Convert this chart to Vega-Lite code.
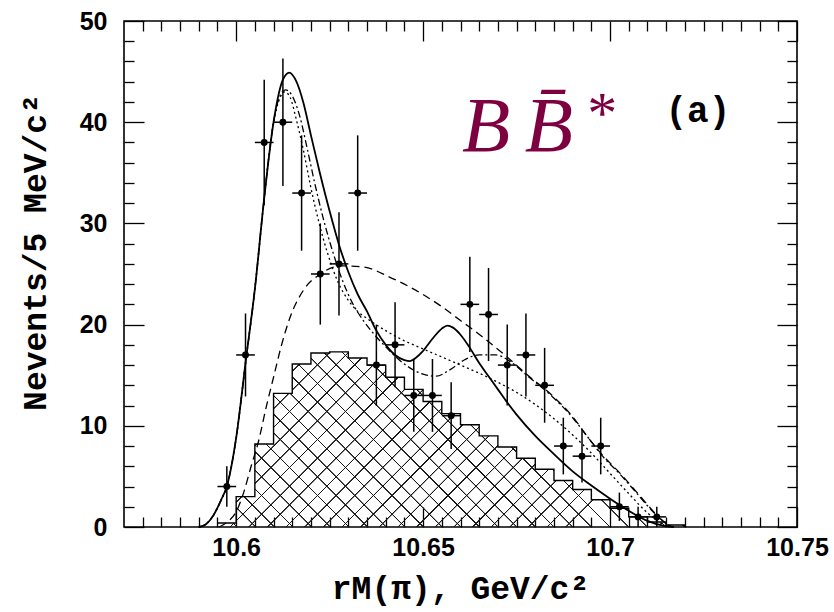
{
  "$schema": "https://vega.github.io/schema/vega-lite/v6.json",
  "width": 673,
  "height": 506,
  "autosize": {"type": "none"},
  "padding": {"left": 124, "top": 21, "right": 37, "bottom": 85},
  "background": "white",
  "config": {
    "view": {"stroke": "black", "strokeWidth": 1.6},
    "axis": {
      "domain": false, "grid": false,
      "tickColor": "black", "tickWidth": 1.3,
      "labelFont": "Liberation Sans", "labelFontWeight": "bold", "labelFontSize": 25, "labelColor": "black",
      "titleFont": "Liberation Mono", "titleFontWeight": "bold", "titleFontSize": 33, "titleColor": "black"
    }
  },
  "resolve": {"axis": {"x": "independent", "y": "independent"}},
  "datasets": {
    "hist": [
      {"lo": 10.595, "n": 0.4}, {"lo": 10.600, "n": 3.0}, {"lo": 10.605, "n": 8.2}, {"lo": 10.610, "n": 13.2},
      {"lo": 10.615, "n": 16.1}, {"lo": 10.620, "n": 17.2}, {"lo": 10.625, "n": 17.3}, {"lo": 10.630, "n": 16.7},
      {"lo": 10.635, "n": 16.0}, {"lo": 10.640, "n": 14.8}, {"lo": 10.645, "n": 13.6}, {"lo": 10.650, "n": 12.4},
      {"lo": 10.655, "n": 11.2}, {"lo": 10.660, "n": 10.1}, {"lo": 10.665, "n": 9.0}, {"lo": 10.670, "n": 7.9},
      {"lo": 10.675, "n": 6.8}, {"lo": 10.680, "n": 5.7}, {"lo": 10.685, "n": 4.6}, {"lo": 10.690, "n": 3.7},
      {"lo": 10.695, "n": 2.7}, {"lo": 10.700, "n": 1.85}, {"lo": 10.705, "n": 1.0}, {"lo": 10.710, "n": 0.5},
      {"lo": 10.715, "n": 0.2}, {"lo": 10.720, "n": 0}
    ],
    "pts": [
      {"m": 10.5975, "b0": 10.595, "b1": 10.600, "n": 4, "lo": 2.0, "hi": 6.0},
      {"m": 10.6025, "b0": 10.600, "b1": 10.605, "n": 17, "lo": 12.9, "hi": 21.1},
      {"m": 10.6075, "b0": 10.605, "b1": 10.610, "n": 38, "lo": 31.8, "hi": 44.2},
      {"m": 10.6125, "b0": 10.610, "b1": 10.615, "n": 40, "lo": 33.7, "hi": 46.3},
      {"m": 10.6175, "b0": 10.615, "b1": 10.620, "n": 33, "lo": 27.3, "hi": 38.7},
      {"m": 10.6225, "b0": 10.620, "b1": 10.625, "n": 25, "lo": 20.0, "hi": 30.0},
      {"m": 10.6275, "b0": 10.625, "b1": 10.630, "n": 26, "lo": 20.9, "hi": 31.1},
      {"m": 10.6325, "b0": 10.630, "b1": 10.635, "n": 33, "lo": 27.3, "hi": 38.7},
      {"m": 10.6375, "b0": 10.635, "b1": 10.640, "n": 16, "lo": 12.0, "hi": 20.0},
      {"m": 10.6425, "b0": 10.640, "b1": 10.645, "n": 18, "lo": 13.8, "hi": 22.2},
      {"m": 10.6475, "b0": 10.645, "b1": 10.650, "n": 13, "lo": 9.4, "hi": 16.6},
      {"m": 10.6525, "b0": 10.650, "b1": 10.655, "n": 13, "lo": 9.4, "hi": 16.6},
      {"m": 10.6575, "b0": 10.655, "b1": 10.660, "n": 11, "lo": 7.7, "hi": 14.3},
      {"m": 10.6625, "b0": 10.660, "b1": 10.665, "n": 22, "lo": 17.3, "hi": 26.7},
      {"m": 10.6675, "b0": 10.665, "b1": 10.670, "n": 21, "lo": 16.4, "hi": 25.6},
      {"m": 10.6725, "b0": 10.670, "b1": 10.675, "n": 16, "lo": 12.0, "hi": 20.0},
      {"m": 10.6775, "b0": 10.675, "b1": 10.680, "n": 17, "lo": 12.9, "hi": 21.1},
      {"m": 10.6825, "b0": 10.680, "b1": 10.685, "n": 14, "lo": 10.3, "hi": 17.7},
      {"m": 10.6875, "b0": 10.685, "b1": 10.690, "n": 8, "lo": 5.2, "hi": 10.8},
      {"m": 10.6925, "b0": 10.690, "b1": 10.695, "n": 7, "lo": 4.4, "hi": 9.6},
      {"m": 10.6975, "b0": 10.695, "b1": 10.700, "n": 8, "lo": 5.2, "hi": 10.8},
      {"m": 10.7025, "b0": 10.700, "b1": 10.705, "n": 2, "lo": 0.6, "hi": 3.4},
      {"m": 10.7075, "b0": 10.705, "b1": 10.710, "n": 1, "lo": 0, "hi": 2},
      {"m": 10.7125, "b0": 10.710, "b1": 10.715, "n": 1, "lo": 0, "hi": 2}
    ],
    "curves": [
      {"c": "solid", "m": 10.590, "n": 0}, {"c": "solid", "m": 10.592, "n": 0.3}, {"c": "solid", "m": 10.594, "n": 1.2},
      {"c": "solid", "m": 10.596, "n": 2.7}, {"c": "solid", "m": 10.5975, "n": 4.0}, {"c": "solid", "m": 10.600, "n": 8.8},
      {"c": "solid", "m": 10.6025, "n": 16.2}, {"c": "solid", "m": 10.605, "n": 23.5}, {"c": "solid", "m": 10.6075, "n": 32.5},
      {"c": "solid", "m": 10.610, "n": 40.0}, {"c": "solid", "m": 10.6125, "n": 44.2}, {"c": "solid", "m": 10.6142, "n": 44.9},
      {"c": "solid", "m": 10.616, "n": 44.1}, {"c": "solid", "m": 10.618, "n": 41.9}, {"c": "solid", "m": 10.620, "n": 38.7},
      {"c": "solid", "m": 10.6225, "n": 34.8}, {"c": "solid", "m": 10.625, "n": 31.2}, {"c": "solid", "m": 10.6275, "n": 27.9},
      {"c": "solid", "m": 10.630, "n": 25.2}, {"c": "solid", "m": 10.6325, "n": 23.0}, {"c": "solid", "m": 10.635, "n": 21.3},
      {"c": "solid", "m": 10.6375, "n": 19.4}, {"c": "solid", "m": 10.640, "n": 18.0}, {"c": "solid", "m": 10.6425, "n": 17.0},
      {"c": "solid", "m": 10.645, "n": 16.5}, {"c": "solid", "m": 10.6465, "n": 16.4}, {"c": "solid", "m": 10.648, "n": 16.7},
      {"c": "solid", "m": 10.650, "n": 17.4}, {"c": "solid", "m": 10.6525, "n": 18.6}, {"c": "solid", "m": 10.655, "n": 19.6},
      {"c": "solid", "m": 10.6565, "n": 19.9}, {"c": "solid", "m": 10.658, "n": 19.7}, {"c": "solid", "m": 10.660, "n": 19.0},
      {"c": "solid", "m": 10.6625, "n": 17.7}, {"c": "solid", "m": 10.665, "n": 16.2}, {"c": "solid", "m": 10.6675, "n": 14.9},
      {"c": "solid", "m": 10.670, "n": 13.6}, {"c": "solid", "m": 10.6725, "n": 12.3}, {"c": "solid", "m": 10.675, "n": 11.1},
      {"c": "solid", "m": 10.680, "n": 9.0}, {"c": "solid", "m": 10.685, "n": 7.2}, {"c": "solid", "m": 10.690, "n": 5.5},
      {"c": "solid", "m": 10.695, "n": 4.1}, {"c": "solid", "m": 10.700, "n": 2.8}, {"c": "solid", "m": 10.705, "n": 1.6},
      {"c": "solid", "m": 10.710, "n": 0.6}, {"c": "solid", "m": 10.7145, "n": 0.1}, {"c": "solid", "m": 10.717, "n": 0},

      {"c": "dot", "m": 10.590, "n": 0}, {"c": "dot", "m": 10.592, "n": 0.3}, {"c": "dot", "m": 10.594, "n": 1.2},
      {"c": "dot", "m": 10.596, "n": 2.7}, {"c": "dot", "m": 10.5975, "n": 4.0}, {"c": "dot", "m": 10.600, "n": 8.8},
      {"c": "dot", "m": 10.6025, "n": 16.2}, {"c": "dot", "m": 10.605, "n": 23.5}, {"c": "dot", "m": 10.6075, "n": 32.5},
      {"c": "dot", "m": 10.610, "n": 40.0}, {"c": "dot", "m": 10.6115, "n": 42.2}, {"c": "dot", "m": 10.613, "n": 43.0},
      {"c": "dot", "m": 10.6145, "n": 42.4}, {"c": "dot", "m": 10.616, "n": 40.4}, {"c": "dot", "m": 10.618, "n": 37.2},
      {"c": "dot", "m": 10.620, "n": 33.5}, {"c": "dot", "m": 10.622, "n": 30.3}, {"c": "dot", "m": 10.6245, "n": 27.0},
      {"c": "dot", "m": 10.627, "n": 24.4}, {"c": "dot", "m": 10.630, "n": 22.4}, {"c": "dot", "m": 10.6325, "n": 21.3},
      {"c": "dot", "m": 10.635, "n": 20.6}, {"c": "dot", "m": 10.640, "n": 19.4}, {"c": "dot", "m": 10.645, "n": 18.4},
      {"c": "dot", "m": 10.650, "n": 17.6}, {"c": "dot", "m": 10.655, "n": 16.8}, {"c": "dot", "m": 10.660, "n": 16.0},
      {"c": "dot", "m": 10.665, "n": 15.2}, {"c": "dot", "m": 10.670, "n": 14.3}, {"c": "dot", "m": 10.675, "n": 13.3},
      {"c": "dot", "m": 10.680, "n": 12.1}, {"c": "dot", "m": 10.685, "n": 10.7}, {"c": "dot", "m": 10.690, "n": 9.1},
      {"c": "dot", "m": 10.695, "n": 7.3}, {"c": "dot", "m": 10.700, "n": 5.3}, {"c": "dot", "m": 10.705, "n": 3.3},
      {"c": "dot", "m": 10.710, "n": 1.4}, {"c": "dot", "m": 10.7145, "n": 0.2}, {"c": "dot", "m": 10.716, "n": 0},

      {"c": "dashdot", "m": 10.590, "n": 0}, {"c": "dashdot", "m": 10.592, "n": 0.3}, {"c": "dashdot", "m": 10.594, "n": 1.2},
      {"c": "dashdot", "m": 10.596, "n": 2.7}, {"c": "dashdot", "m": 10.5975, "n": 4.0}, {"c": "dashdot", "m": 10.600, "n": 8.8},
      {"c": "dashdot", "m": 10.6025, "n": 16.2}, {"c": "dashdot", "m": 10.605, "n": 23.5}, {"c": "dashdot", "m": 10.6075, "n": 32.5},
      {"c": "dashdot", "m": 10.610, "n": 40.0}, {"c": "dashdot", "m": 10.6115, "n": 42.4}, {"c": "dashdot", "m": 10.6132, "n": 43.2},
      {"c": "dashdot", "m": 10.615, "n": 42.6}, {"c": "dashdot", "m": 10.617, "n": 40.6}, {"c": "dashdot", "m": 10.619, "n": 37.4},
      {"c": "dashdot", "m": 10.621, "n": 34.0}, {"c": "dashdot", "m": 10.6235, "n": 30.2}, {"c": "dashdot", "m": 10.626, "n": 27.0},
      {"c": "dashdot", "m": 10.6285, "n": 24.3}, {"c": "dashdot", "m": 10.631, "n": 22.2}, {"c": "dashdot", "m": 10.634, "n": 20.4},
      {"c": "dashdot", "m": 10.637, "n": 19.0}, {"c": "dashdot", "m": 10.640, "n": 17.8}, {"c": "dashdot", "m": 10.645, "n": 16.1},
      {"c": "dashdot", "m": 10.650, "n": 15.1}, {"c": "dashdot", "m": 10.6535, "n": 14.9}, {"c": "dashdot", "m": 10.657, "n": 15.5},
      {"c": "dashdot", "m": 10.661, "n": 16.5}, {"c": "dashdot", "m": 10.665, "n": 17.0}, {"c": "dashdot", "m": 10.6695, "n": 17.0},
      {"c": "dashdot", "m": 10.6735, "n": 16.3}, {"c": "dashdot", "m": 10.678, "n": 14.9}, {"c": "dashdot", "m": 10.6848, "n": 12.8},
      {"c": "dashdot", "m": 10.690, "n": 10.8}, {"c": "dashdot", "m": 10.694, "n": 8.9}, {"c": "dashdot", "m": 10.698, "n": 7.0},
      {"c": "dashdot", "m": 10.7027, "n": 5.2}, {"c": "dashdot", "m": 10.707, "n": 3.4}, {"c": "dashdot", "m": 10.710, "n": 2.1},
      {"c": "dashdot", "m": 10.7135, "n": 0.8}, {"c": "dashdot", "m": 10.7155, "n": 0.2}, {"c": "dashdot", "m": 10.717, "n": 0},

      {"c": "dash", "m": 10.5955, "n": 0}, {"c": "dash", "m": 10.598, "n": 0.6}, {"c": "dash", "m": 10.600, "n": 1.5},
      {"c": "dash", "m": 10.602, "n": 3.4}, {"c": "dash", "m": 10.604, "n": 6.0}, {"c": "dash", "m": 10.606, "n": 8.5},
      {"c": "dash", "m": 10.608, "n": 11.8}, {"c": "dash", "m": 10.610, "n": 14.8}, {"c": "dash", "m": 10.612, "n": 17.8},
      {"c": "dash", "m": 10.6145, "n": 20.8}, {"c": "dash", "m": 10.618, "n": 23.4}, {"c": "dash", "m": 10.6225, "n": 25.0},
      {"c": "dash", "m": 10.628, "n": 25.8}, {"c": "dash", "m": 10.634, "n": 25.7}, {"c": "dash", "m": 10.641, "n": 24.7},
      {"c": "dash", "m": 10.648, "n": 23.4}, {"c": "dash", "m": 10.6545, "n": 21.9}, {"c": "dash", "m": 10.660, "n": 20.4},
      {"c": "dash", "m": 10.6655, "n": 18.9}, {"c": "dash", "m": 10.6715, "n": 17.1}, {"c": "dash", "m": 10.678, "n": 15.0},
      {"c": "dash", "m": 10.6848, "n": 12.9}, {"c": "dash", "m": 10.690, "n": 10.9}, {"c": "dash", "m": 10.694, "n": 8.9},
      {"c": "dash", "m": 10.698, "n": 7.1}, {"c": "dash", "m": 10.7027, "n": 5.3}, {"c": "dash", "m": 10.707, "n": 3.5},
      {"c": "dash", "m": 10.710, "n": 2.2}, {"c": "dash", "m": 10.7135, "n": 0.8}, {"c": "dash", "m": 10.7155, "n": 0.2},
      {"c": "dash", "m": 10.717, "n": 0}
    ],
    "notes": [{"first": "B", "second": "B̄", "star": "*", "panel": "(a)"}]
  },
  "layer": [
    {
      "data": {"name": "hist"},
      "mark": {
        "type": "area", "interpolate": "step-after",
        "fill": {
          "gradient": "linear", "x1": 0, "y1": 0, "x2": 1, "y2": 0.374,
          "stops": [
            {"offset": 0, "color": "rgba(0,0,0,0)"}, {"offset": 0.0008, "color": "#1a1a1a"}, {"offset": 0.0028, "color": "#1a1a1a"}, {"offset": 0.0036, "color": "rgba(0,0,0,0)"},
            {"offset": 0.035, "color": "rgba(0,0,0,0)"}, {"offset": 0.0358, "color": "#1a1a1a"}, {"offset": 0.0378, "color": "#1a1a1a"}, {"offset": 0.0386, "color": "rgba(0,0,0,0)"},
            {"offset": 0.07, "color": "rgba(0,0,0,0)"}, {"offset": 0.0708, "color": "#1a1a1a"}, {"offset": 0.0728, "color": "#1a1a1a"}, {"offset": 0.0736, "color": "rgba(0,0,0,0)"},
            {"offset": 0.105, "color": "rgba(0,0,0,0)"}, {"offset": 0.1058, "color": "#1a1a1a"}, {"offset": 0.1078, "color": "#1a1a1a"}, {"offset": 0.1086, "color": "rgba(0,0,0,0)"},
            {"offset": 0.14, "color": "rgba(0,0,0,0)"}, {"offset": 0.1408, "color": "#1a1a1a"}, {"offset": 0.1428, "color": "#1a1a1a"}, {"offset": 0.1436, "color": "rgba(0,0,0,0)"},
            {"offset": 0.175, "color": "rgba(0,0,0,0)"}, {"offset": 0.1758, "color": "#1a1a1a"}, {"offset": 0.1778, "color": "#1a1a1a"}, {"offset": 0.1786, "color": "rgba(0,0,0,0)"},
            {"offset": 0.21, "color": "rgba(0,0,0,0)"}, {"offset": 0.2108, "color": "#1a1a1a"}, {"offset": 0.2128, "color": "#1a1a1a"}, {"offset": 0.2136, "color": "rgba(0,0,0,0)"},
            {"offset": 0.245, "color": "rgba(0,0,0,0)"}, {"offset": 0.2458, "color": "#1a1a1a"}, {"offset": 0.2478, "color": "#1a1a1a"}, {"offset": 0.2486, "color": "rgba(0,0,0,0)"},
            {"offset": 0.28, "color": "rgba(0,0,0,0)"}, {"offset": 0.2808, "color": "#1a1a1a"}, {"offset": 0.2828, "color": "#1a1a1a"}, {"offset": 0.2836, "color": "rgba(0,0,0,0)"},
            {"offset": 0.315, "color": "rgba(0,0,0,0)"}, {"offset": 0.3158, "color": "#1a1a1a"}, {"offset": 0.3178, "color": "#1a1a1a"}, {"offset": 0.3186, "color": "rgba(0,0,0,0)"},
            {"offset": 0.35, "color": "rgba(0,0,0,0)"}, {"offset": 0.3508, "color": "#1a1a1a"}, {"offset": 0.3528, "color": "#1a1a1a"}, {"offset": 0.3536, "color": "rgba(0,0,0,0)"},
            {"offset": 0.385, "color": "rgba(0,0,0,0)"}, {"offset": 0.3858, "color": "#1a1a1a"}, {"offset": 0.3878, "color": "#1a1a1a"}, {"offset": 0.3886, "color": "rgba(0,0,0,0)"},
            {"offset": 0.42, "color": "rgba(0,0,0,0)"}, {"offset": 0.4208, "color": "#1a1a1a"}, {"offset": 0.4228, "color": "#1a1a1a"}, {"offset": 0.4236, "color": "rgba(0,0,0,0)"},
            {"offset": 0.455, "color": "rgba(0,0,0,0)"}, {"offset": 0.4558, "color": "#1a1a1a"}, {"offset": 0.4578, "color": "#1a1a1a"}, {"offset": 0.4586, "color": "rgba(0,0,0,0)"},
            {"offset": 0.49, "color": "rgba(0,0,0,0)"}, {"offset": 0.4908, "color": "#1a1a1a"}, {"offset": 0.4928, "color": "#1a1a1a"}, {"offset": 0.4936, "color": "rgba(0,0,0,0)"},
            {"offset": 0.525, "color": "rgba(0,0,0,0)"}, {"offset": 0.5258, "color": "#1a1a1a"}, {"offset": 0.5278, "color": "#1a1a1a"}, {"offset": 0.5286, "color": "rgba(0,0,0,0)"},
            {"offset": 0.56, "color": "rgba(0,0,0,0)"}, {"offset": 0.5608, "color": "#1a1a1a"}, {"offset": 0.5628, "color": "#1a1a1a"}, {"offset": 0.5636, "color": "rgba(0,0,0,0)"},
            {"offset": 0.595, "color": "rgba(0,0,0,0)"}, {"offset": 0.5958, "color": "#1a1a1a"}, {"offset": 0.5978, "color": "#1a1a1a"}, {"offset": 0.5986, "color": "rgba(0,0,0,0)"},
            {"offset": 0.63, "color": "rgba(0,0,0,0)"}, {"offset": 0.6308, "color": "#1a1a1a"}, {"offset": 0.6328, "color": "#1a1a1a"}, {"offset": 0.6336, "color": "rgba(0,0,0,0)"},
            {"offset": 0.665, "color": "rgba(0,0,0,0)"}, {"offset": 0.6658, "color": "#1a1a1a"}, {"offset": 0.6678, "color": "#1a1a1a"}, {"offset": 0.6686, "color": "rgba(0,0,0,0)"},
            {"offset": 0.7, "color": "rgba(0,0,0,0)"}, {"offset": 0.7008, "color": "#1a1a1a"}, {"offset": 0.7028, "color": "#1a1a1a"}, {"offset": 0.7036, "color": "rgba(0,0,0,0)"},
            {"offset": 0.735, "color": "rgba(0,0,0,0)"}, {"offset": 0.7358, "color": "#1a1a1a"}, {"offset": 0.7378, "color": "#1a1a1a"}, {"offset": 0.7386, "color": "rgba(0,0,0,0)"},
            {"offset": 0.77, "color": "rgba(0,0,0,0)"}, {"offset": 0.7708, "color": "#1a1a1a"}, {"offset": 0.7728, "color": "#1a1a1a"}, {"offset": 0.7736, "color": "rgba(0,0,0,0)"},
            {"offset": 0.805, "color": "rgba(0,0,0,0)"}, {"offset": 0.8058, "color": "#1a1a1a"}, {"offset": 0.8078, "color": "#1a1a1a"}, {"offset": 0.8086, "color": "rgba(0,0,0,0)"},
            {"offset": 0.84, "color": "rgba(0,0,0,0)"}, {"offset": 0.8408, "color": "#1a1a1a"}, {"offset": 0.8428, "color": "#1a1a1a"}, {"offset": 0.8436, "color": "rgba(0,0,0,0)"},
            {"offset": 0.875, "color": "rgba(0,0,0,0)"}, {"offset": 0.8758, "color": "#1a1a1a"}, {"offset": 0.8778, "color": "#1a1a1a"}, {"offset": 0.8786, "color": "rgba(0,0,0,0)"},
            {"offset": 0.91, "color": "rgba(0,0,0,0)"}, {"offset": 0.9108, "color": "#1a1a1a"}, {"offset": 0.9128, "color": "#1a1a1a"}, {"offset": 0.9136, "color": "rgba(0,0,0,0)"},
            {"offset": 0.945, "color": "rgba(0,0,0,0)"}, {"offset": 0.9458, "color": "#1a1a1a"}, {"offset": 0.9478, "color": "#1a1a1a"}, {"offset": 0.9486, "color": "rgba(0,0,0,0)"},
            {"offset": 0.98, "color": "rgba(0,0,0,0)"}, {"offset": 0.9808, "color": "#1a1a1a"}, {"offset": 0.9828, "color": "#1a1a1a"}, {"offset": 0.9836, "color": "rgba(0,0,0,0)"},
            {"offset": 1, "color": "rgba(0,0,0,0)"}
          ]
        }
      },
      "encoding": {
        "x": {
          "field": "lo", "type": "quantitative",
          "scale": {"domain": [10.57, 10.75], "nice": false, "zero": false},
          "axis": {
            "orient": "bottom", "values": [10.6, 10.65, 10.7, 10.75], "format": "~g",
            "tickSize": -20, "labelPadding": 28, "labelFlush": false, "labelOverlap": false,
            "title": "rM(π), GeV/c²", "titleX": 336, "titleY": 71, "titleBaseline": "alphabetic", "titleAlign": "center"
          }
        },
        "y": {
          "field": "n", "type": "quantitative",
          "scale": {"domain": [0, 50], "nice": false},
          "axis": {
            "orient": "left", "values": [0, 10, 20, 30, 40, 50],
            "tickSize": -20, "labelPadding": 37, "labelOverlap": false,
            "title": "Nevents/5 MeV/c²", "titleX": -79, "titleY": 231, "titleAngle": -90,
            "titleBaseline": "alphabetic", "titleAlign": "center"
          }
        }
      }
    },
    {
      "data": {"name": "hist"},
      "mark": {
        "type": "area", "interpolate": "step-after",
        "fill": {
          "gradient": "linear", "x1": 0, "y1": 1, "x2": 1, "y2": 0.626,
          "stops": [
            {"offset": 0, "color": "rgba(0,0,0,0)"}, {"offset": 0.0008, "color": "#1a1a1a"}, {"offset": 0.0028, "color": "#1a1a1a"}, {"offset": 0.0036, "color": "rgba(0,0,0,0)"},
            {"offset": 0.035, "color": "rgba(0,0,0,0)"}, {"offset": 0.0358, "color": "#1a1a1a"}, {"offset": 0.0378, "color": "#1a1a1a"}, {"offset": 0.0386, "color": "rgba(0,0,0,0)"},
            {"offset": 0.07, "color": "rgba(0,0,0,0)"}, {"offset": 0.0708, "color": "#1a1a1a"}, {"offset": 0.0728, "color": "#1a1a1a"}, {"offset": 0.0736, "color": "rgba(0,0,0,0)"},
            {"offset": 0.105, "color": "rgba(0,0,0,0)"}, {"offset": 0.1058, "color": "#1a1a1a"}, {"offset": 0.1078, "color": "#1a1a1a"}, {"offset": 0.1086, "color": "rgba(0,0,0,0)"},
            {"offset": 0.14, "color": "rgba(0,0,0,0)"}, {"offset": 0.1408, "color": "#1a1a1a"}, {"offset": 0.1428, "color": "#1a1a1a"}, {"offset": 0.1436, "color": "rgba(0,0,0,0)"},
            {"offset": 0.175, "color": "rgba(0,0,0,0)"}, {"offset": 0.1758, "color": "#1a1a1a"}, {"offset": 0.1778, "color": "#1a1a1a"}, {"offset": 0.1786, "color": "rgba(0,0,0,0)"},
            {"offset": 0.21, "color": "rgba(0,0,0,0)"}, {"offset": 0.2108, "color": "#1a1a1a"}, {"offset": 0.2128, "color": "#1a1a1a"}, {"offset": 0.2136, "color": "rgba(0,0,0,0)"},
            {"offset": 0.245, "color": "rgba(0,0,0,0)"}, {"offset": 0.2458, "color": "#1a1a1a"}, {"offset": 0.2478, "color": "#1a1a1a"}, {"offset": 0.2486, "color": "rgba(0,0,0,0)"},
            {"offset": 0.28, "color": "rgba(0,0,0,0)"}, {"offset": 0.2808, "color": "#1a1a1a"}, {"offset": 0.2828, "color": "#1a1a1a"}, {"offset": 0.2836, "color": "rgba(0,0,0,0)"},
            {"offset": 0.315, "color": "rgba(0,0,0,0)"}, {"offset": 0.3158, "color": "#1a1a1a"}, {"offset": 0.3178, "color": "#1a1a1a"}, {"offset": 0.3186, "color": "rgba(0,0,0,0)"},
            {"offset": 0.35, "color": "rgba(0,0,0,0)"}, {"offset": 0.3508, "color": "#1a1a1a"}, {"offset": 0.3528, "color": "#1a1a1a"}, {"offset": 0.3536, "color": "rgba(0,0,0,0)"},
            {"offset": 0.385, "color": "rgba(0,0,0,0)"}, {"offset": 0.3858, "color": "#1a1a1a"}, {"offset": 0.3878, "color": "#1a1a1a"}, {"offset": 0.3886, "color": "rgba(0,0,0,0)"},
            {"offset": 0.42, "color": "rgba(0,0,0,0)"}, {"offset": 0.4208, "color": "#1a1a1a"}, {"offset": 0.4228, "color": "#1a1a1a"}, {"offset": 0.4236, "color": "rgba(0,0,0,0)"},
            {"offset": 0.455, "color": "rgba(0,0,0,0)"}, {"offset": 0.4558, "color": "#1a1a1a"}, {"offset": 0.4578, "color": "#1a1a1a"}, {"offset": 0.4586, "color": "rgba(0,0,0,0)"},
            {"offset": 0.49, "color": "rgba(0,0,0,0)"}, {"offset": 0.4908, "color": "#1a1a1a"}, {"offset": 0.4928, "color": "#1a1a1a"}, {"offset": 0.4936, "color": "rgba(0,0,0,0)"},
            {"offset": 0.525, "color": "rgba(0,0,0,0)"}, {"offset": 0.5258, "color": "#1a1a1a"}, {"offset": 0.5278, "color": "#1a1a1a"}, {"offset": 0.5286, "color": "rgba(0,0,0,0)"},
            {"offset": 0.56, "color": "rgba(0,0,0,0)"}, {"offset": 0.5608, "color": "#1a1a1a"}, {"offset": 0.5628, "color": "#1a1a1a"}, {"offset": 0.5636, "color": "rgba(0,0,0,0)"},
            {"offset": 0.595, "color": "rgba(0,0,0,0)"}, {"offset": 0.5958, "color": "#1a1a1a"}, {"offset": 0.5978, "color": "#1a1a1a"}, {"offset": 0.5986, "color": "rgba(0,0,0,0)"},
            {"offset": 0.63, "color": "rgba(0,0,0,0)"}, {"offset": 0.6308, "color": "#1a1a1a"}, {"offset": 0.6328, "color": "#1a1a1a"}, {"offset": 0.6336, "color": "rgba(0,0,0,0)"},
            {"offset": 0.665, "color": "rgba(0,0,0,0)"}, {"offset": 0.6658, "color": "#1a1a1a"}, {"offset": 0.6678, "color": "#1a1a1a"}, {"offset": 0.6686, "color": "rgba(0,0,0,0)"},
            {"offset": 0.7, "color": "rgba(0,0,0,0)"}, {"offset": 0.7008, "color": "#1a1a1a"}, {"offset": 0.7028, "color": "#1a1a1a"}, {"offset": 0.7036, "color": "rgba(0,0,0,0)"},
            {"offset": 0.735, "color": "rgba(0,0,0,0)"}, {"offset": 0.7358, "color": "#1a1a1a"}, {"offset": 0.7378, "color": "#1a1a1a"}, {"offset": 0.7386, "color": "rgba(0,0,0,0)"},
            {"offset": 0.77, "color": "rgba(0,0,0,0)"}, {"offset": 0.7708, "color": "#1a1a1a"}, {"offset": 0.7728, "color": "#1a1a1a"}, {"offset": 0.7736, "color": "rgba(0,0,0,0)"},
            {"offset": 0.805, "color": "rgba(0,0,0,0)"}, {"offset": 0.8058, "color": "#1a1a1a"}, {"offset": 0.8078, "color": "#1a1a1a"}, {"offset": 0.8086, "color": "rgba(0,0,0,0)"},
            {"offset": 0.84, "color": "rgba(0,0,0,0)"}, {"offset": 0.8408, "color": "#1a1a1a"}, {"offset": 0.8428, "color": "#1a1a1a"}, {"offset": 0.8436, "color": "rgba(0,0,0,0)"},
            {"offset": 0.875, "color": "rgba(0,0,0,0)"}, {"offset": 0.8758, "color": "#1a1a1a"}, {"offset": 0.8778, "color": "#1a1a1a"}, {"offset": 0.8786, "color": "rgba(0,0,0,0)"},
            {"offset": 0.91, "color": "rgba(0,0,0,0)"}, {"offset": 0.9108, "color": "#1a1a1a"}, {"offset": 0.9128, "color": "#1a1a1a"}, {"offset": 0.9136, "color": "rgba(0,0,0,0)"},
            {"offset": 0.945, "color": "rgba(0,0,0,0)"}, {"offset": 0.9458, "color": "#1a1a1a"}, {"offset": 0.9478, "color": "#1a1a1a"}, {"offset": 0.9486, "color": "rgba(0,0,0,0)"},
            {"offset": 0.98, "color": "rgba(0,0,0,0)"}, {"offset": 0.9808, "color": "#1a1a1a"}, {"offset": 0.9828, "color": "#1a1a1a"}, {"offset": 0.9836, "color": "rgba(0,0,0,0)"},
            {"offset": 1, "color": "rgba(0,0,0,0)"}
          ]
        }
      },
      "encoding": {
        "x": {
          "field": "lo", "type": "quantitative",
          "axis": {
            "orient": "bottom", "tickSize": -10, "labels": false, "title": null,
            "values": [10.575, 10.58, 10.585, 10.59, 10.595, 10.605, 10.61, 10.615, 10.62, 10.625, 10.63, 10.635, 10.64, 10.645, 10.655, 10.66, 10.665, 10.67, 10.675, 10.68, 10.685, 10.69, 10.695, 10.705, 10.71, 10.715, 10.72, 10.725, 10.73, 10.735, 10.74, 10.745]
          }
        },
        "y": {
          "field": "n", "type": "quantitative",
          "axis": {
            "orient": "left", "tickSize": -10, "labels": false, "title": null,
            "values": [2, 4, 6, 8, 12, 14, 16, 18, 22, 24, 26, 28, 32, 34, 36, 38, 42, 44, 46, 48]
          }
        }
      }
    },
    {
      "data": {"name": "hist"},
      "mark": {"type": "line", "interpolate": "step-after", "color": "black", "strokeWidth": 1.4},
      "encoding": {
        "x": {
          "field": "lo", "type": "quantitative",
          "axis": {"orient": "top", "values": [10.6, 10.65, 10.7, 10.75], "tickSize": -20, "labels": false, "title": null}
        },
        "y": {
          "field": "n", "type": "quantitative",
          "axis": {"orient": "right", "values": [0, 10, 20, 30, 40, 50], "tickSize": -20, "labels": false, "title": null}
        }
      }
    },
    {
      "data": {"name": "curves"},
      "transform": [{"filter": "datum.c === 'dash'"}],
      "mark": {"type": "line", "interpolate": "monotone", "color": "black", "strokeWidth": 1.3, "strokeDash": [8, 5]},
      "encoding": {
        "x": {
          "field": "m", "type": "quantitative",
          "axis": {
            "orient": "top", "tickSize": -10, "labels": false, "title": null,
            "values": [10.575, 10.58, 10.585, 10.59, 10.595, 10.605, 10.61, 10.615, 10.62, 10.625, 10.63, 10.635, 10.64, 10.645, 10.655, 10.66, 10.665, 10.67, 10.675, 10.68, 10.685, 10.69, 10.695, 10.705, 10.71, 10.715, 10.72, 10.725, 10.73, 10.735, 10.74, 10.745]
          }
        },
        "y": {
          "field": "n", "type": "quantitative",
          "axis": {
            "orient": "right", "tickSize": -10, "labels": false, "title": null,
            "values": [2, 4, 6, 8, 12, 14, 16, 18, 22, 24, 26, 28, 32, 34, 36, 38, 42, 44, 46, 48]
          }
        }
      }
    },
    {
      "data": {"name": "curves"},
      "transform": [{"filter": "datum.c === 'dot'"}],
      "mark": {"type": "line", "interpolate": "monotone", "color": "black", "strokeWidth": 1.3, "strokeDash": [2, 3]},
      "encoding": {
        "x": {"field": "m", "type": "quantitative", "axis": null},
        "y": {"field": "n", "type": "quantitative", "axis": null}
      }
    },
    {
      "data": {"name": "curves"},
      "transform": [{"filter": "datum.c === 'dashdot'"}],
      "mark": {"type": "line", "interpolate": "monotone", "color": "black", "strokeWidth": 1.3, "strokeDash": [7, 3, 2, 3]},
      "encoding": {
        "x": {"field": "m", "type": "quantitative", "axis": null},
        "y": {"field": "n", "type": "quantitative", "axis": null}
      }
    },
    {
      "data": {"name": "curves"},
      "transform": [{"filter": "datum.c === 'solid'"}],
      "mark": {"type": "line", "interpolate": "monotone", "color": "black", "strokeWidth": 1.8},
      "encoding": {
        "x": {"field": "m", "type": "quantitative", "axis": null},
        "y": {"field": "n", "type": "quantitative", "axis": null}
      }
    },
    {
      "data": {"name": "pts"},
      "mark": {"type": "rule", "color": "black", "strokeWidth": 1.5},
      "encoding": {
        "x": {"field": "m", "type": "quantitative", "axis": null},
        "y": {"field": "lo", "type": "quantitative", "axis": null},
        "y2": {"field": "hi"}
      }
    },
    {
      "data": {"name": "pts"},
      "mark": {"type": "rule", "color": "black", "strokeWidth": 1.5},
      "encoding": {
        "x": {"field": "b0", "type": "quantitative", "axis": null},
        "x2": {"field": "b1"},
        "y": {"field": "n", "type": "quantitative", "axis": null}
      }
    },
    {
      "data": {"name": "pts"},
      "mark": {"type": "point", "shape": "circle", "filled": true, "color": "black", "size": 48, "opacity": 1},
      "encoding": {
        "x": {"field": "m", "type": "quantitative", "axis": null},
        "y": {"field": "n", "type": "quantitative", "axis": null}
      }
    },
    {
      "data": {"name": "notes"},
      "mark": {"type": "text", "font": "Liberation Serif", "fontStyle": "italic", "fontSize": 79, "color": "#7d0040", "align": "left", "baseline": "alphabetic"},
      "encoding": {
        "text": {"field": "first"},
        "x": {"datum": 10.6604, "type": "quantitative", "axis": null},
        "y": {"datum": 37.2, "type": "quantitative", "axis": null}
      }
    },
    {
      "data": {"name": "notes"},
      "mark": {"type": "text", "font": "Liberation Serif", "fontStyle": "italic", "fontSize": 79, "color": "#7d0040", "align": "left", "baseline": "alphabetic"},
      "encoding": {
        "text": {"field": "second"},
        "x": {"datum": 10.6772, "type": "quantitative", "axis": null},
        "y": {"datum": 37.2, "type": "quantitative", "axis": null}
      }
    },
    {
      "data": {"name": "notes"},
      "mark": {"type": "text", "font": "Liberation Serif", "fontSize": 60, "color": "#7d0040", "align": "left", "baseline": "alphabetic"},
      "encoding": {
        "text": {"field": "star"},
        "x": {"datum": 10.6939, "type": "quantitative", "axis": null},
        "y": {"datum": 38.9, "type": "quantitative", "axis": null}
      }
    },
    {
      "data": {"name": "notes"},
      "mark": {"type": "text", "font": "Liberation Mono", "fontWeight": "bold", "fontSize": 36, "color": "black", "align": "center", "baseline": "alphabetic"},
      "encoding": {
        "text": {"field": "panel"},
        "x": {"datum": 10.7235, "type": "quantitative", "axis": null},
        "y": {"datum": 40.0, "type": "quantitative", "axis": null}
      }
    }
  ]
}
